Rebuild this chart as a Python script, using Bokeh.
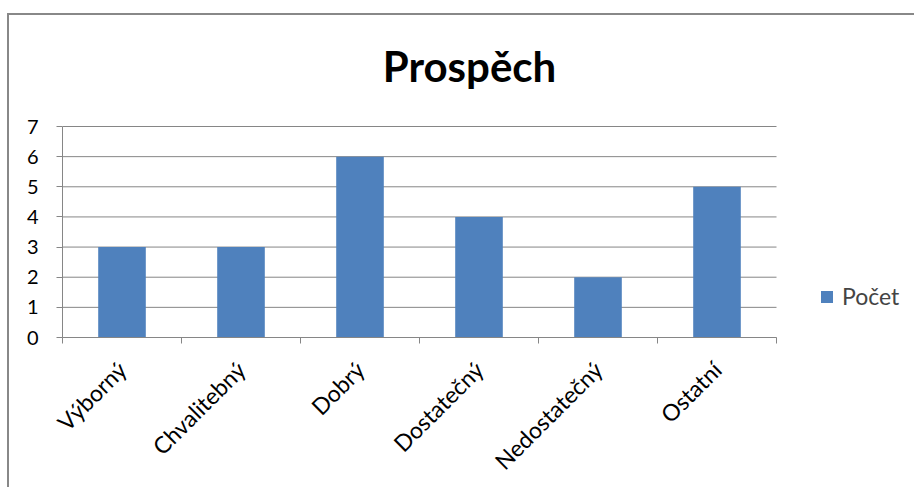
from bokeh.plotting import figure
from bokeh.models import Range1d, FixedTicker, Legend, LegendItem, Label
from bokeh.embed import file_html
from bokeh.resources import INLINE

categories = ["Výborný", "Chvalitebný", "Dobrý", "Dostatečný", "Nedostatečný", "Ostatní"]
values = [3, 3, 6, 4, 2, 5]
series_name = "Počet"
title_text = "Prospěch"
y_ticks = [0, 1, 2, 3, 4, 5, 6, 7]

FONT = "Lato"
GRAY = "#868686"
BLUE = "#4F81BD"

n = len(categories)
centers = [i + 0.5 for i in range(n)]
bounds = [i for i in range(n + 1)]

# frame covers plot area plus the space for title and legend (px per unit: 119 x, 30.14 y)
X_END = 851 / 119.0
Y_END = 322 / (211 / 7.0)

p = figure(frame_width=851, frame_height=322, output_backend="svg", toolbar_location=None,
           x_range=Range1d(0, X_END), y_range=Range1d(0, Y_END),
           min_border_left=53, min_border_right=1, min_border_top=0, min_border_bottom=149)
p.styles = {"border-left": "2px solid #888888", "border-top": "2px solid #888888",
            "margin-top": "13px", "margin-left": "7px"}
p.outline_line_color = None
p.background_fill_color = "white"
p.border_fill_color = "white"
p.xgrid.visible = False
p.ygrid.visible = False

# horizontal gridlines over the category span
p.segment(x0=[bounds[0]] * len(y_ticks), x1=[bounds[-1]] * len(y_ticks),
          y0=y_ticks, y1=y_ticks, line_color=GRAY, line_width=1)

r = p.vbar(x=centers, top=values, width=0.4, bottom=0, fill_color=BLUE, line_color=None)

title = Label(x=3.42, y=9.0, text=title_text, text_font=FONT, text_font_size="42px",
              text_font_style="bold", text_color="black", text_align="center",
              text_baseline="alphabetic")
p.add_layout(title)

ya = p.yaxis[0]
ya.ticker = FixedTicker(ticks=y_ticks)
ya.bounds = (y_ticks[0], y_ticks[-1])
ya.axis_line_color = GRAY
ya.major_tick_line_color = GRAY
ya.major_tick_out = 6
ya.major_tick_in = 0
ya.minor_tick_line_color = None
ya.major_label_text_font = FONT
ya.major_label_text_font_size = "20px"
ya.major_label_text_color = "black"
ya.major_label_standoff = 18

xa = p.xaxis[0]
xa.ticker = FixedTicker(ticks=centers, minor_ticks=bounds)
xa.bounds = (bounds[0], bounds[-1])
xa.major_label_overrides = {c: n for c, n in zip(centers, categories)}
xa.axis_line_color = GRAY
xa.major_tick_line_color = None
xa.minor_tick_line_color = GRAY
xa.minor_tick_out = 6
xa.minor_tick_in = 0
xa.major_label_orientation = 0.785398
xa.major_label_text_font = FONT
xa.major_label_text_font_size = "23px"
xa.major_label_text_color = "black"
xa.major_label_standoff = 22

legend = Legend(items=[LegendItem(label=series_name, renderers=[r])], location=(757, 27),
                border_line_color=None, background_fill_alpha=0, margin=0, padding=0,
                glyph_width=15, glyph_height=15, label_height=24, label_text_font=FONT,
                label_text_font_size="23px", label_standoff=8)
p.add_layout(legend)

open("out.html", "w").write(file_html(p, INLINE))
